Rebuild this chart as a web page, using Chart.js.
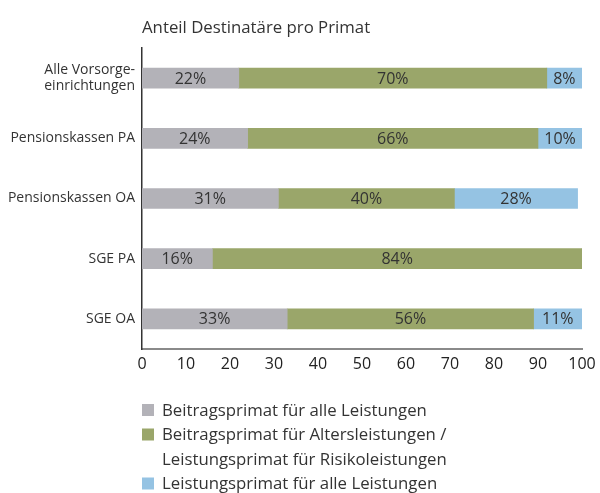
<!DOCTYPE html>
<html>
<head>
<meta charset="utf-8">
<script src="https://cdn.jsdelivr.net/npm/chart.js@4/dist/chart.umd.min.js"></script>
<style>
  html, body { margin: 0; padding: 0; background: #fff; }
  #wrap { width: 600px; height: 493px; position: relative; }
</style>
</head>
<body>
<div id="wrap"><canvas id="c" width="600" height="493"></canvas></div>
<script>
const chartTitle = 'Anteil Destinatäre pro Primat';
const categories = [['Alle Vorsorge-', 'einrichtungen'], 'Pensionskassen PA', 'Pensionskassen OA', 'SGE PA', 'SGE OA'];
const seriesLabels = [
  ['Beitragsprimat für alle Leistungen'],
  ['Beitragsprimat für Altersleistungen /', 'Leistungsprimat für Risikoleistungen'],
  ['Leistungsprimat für alle Leistungen']
];
const beitragAlle = [22, 24, 31, 16, 33];
const beitragAlter = [70, 66, 40, 84, 56];
const leistungAlle = [8, 10, 28, 0, 11];
const xTickValues = [0, 10, 20, 30, 40, 50, 60, 70, 80, 90, 100];

const colors = ['#b3b2b8', '#9aa66a', '#95c3e3'];
const FONT = '"Open Sans", "Noto Sans", sans-serif';
const TEXT = '#333333';

const overlay = {
  id: 'overlay',
  afterDatasetsDraw(chart) {
    const ctx = chart.ctx;
    ctx.save();
    // data labels
    ctx.font = '16px ' + FONT;
    ctx.fillStyle = TEXT;
    ctx.textAlign = 'center';
    ctx.textBaseline = 'middle';
    chart.data.datasets.forEach((ds, i) => {
      const meta = chart.getDatasetMeta(i);
      meta.data.forEach((bar, j) => {
        const v = ds.data[j];
        if (!v) return;
        const cx = (bar.x + bar.base) / 2;
        ctx.fillText(v + '%', cx, bar.y + 1);
      });
    });
    // title
    ctx.textAlign = 'left';
    ctx.font = '16.8px ' + FONT;
    ctx.fillText(chartTitle, chart.chartArea.left, 28);
    // legend
    ctx.font = '16.8px ' + FONT;
    let line = 0;
    const top = 410, lh = 24.5;
    seriesLabels.forEach((lines, i) => {
      const y0 = top + line * lh;
      ctx.fillStyle = colors[i];
      ctx.fillRect(chart.chartArea.left, y0 - 6, 12, 12);
      ctx.fillStyle = TEXT;
      lines.forEach((t, k) => {
        ctx.fillText(t, 162, top + (line + k) * lh + 1);
      });
      line += lines.length;
    });
    ctx.restore();
  }
};

new Chart(document.getElementById('c'), {
  type: 'bar',
  data: {
    labels: categories,
    datasets: [
      { label: seriesLabels[0].join(' '), data: beitragAlle, backgroundColor: colors[0] },
      { label: seriesLabels[1].join(' '), data: beitragAlter, backgroundColor: colors[1] },
      { label: seriesLabels[2].join(' '), data: leistungAlle, backgroundColor: colors[2] }
    ]
  },
  options: {
    indexAxis: 'y',
    responsive: false,
    animation: false,
    layout: { padding: { top: 48, right: 18, left: 0, bottom: 0 } },
    datasets: { bar: { barThickness: 20, borderWidth: 0 } },
    plugins: { legend: { display: false }, tooltip: { enabled: false }, title: { display: false } },
    scales: {
      x: {
        stacked: true,
        min: 0, max: 100,
        afterBuildTicks(scale) { scale.ticks = xTickValues.map(v => ({ value: v })); },
        afterFit(scale) { scale.height = 144; scale.paddingRight = 0; scale.paddingLeft = 0; },
        grid: { display: false, drawTicks: false },
        border: { display: true, color: '#8a8a8a', width: 2 },
        ticks: { font: { family: FONT, size: 16 }, color: '#222', padding: 6, maxRotation: 0 }
      },
      y: {
        stacked: true,
        afterFit(scale) { scale.width = 142; },
        grid: { display: false, drawTicks: false },
        border: { display: true, color: '#333', width: 1.5 },
        ticks: { font: { family: FONT, size: 14, lineHeight: 1.15 }, color: TEXT, padding: 7 }
      }
    }
  },
  plugins: [overlay]
});
</script>
</body>
</html>
